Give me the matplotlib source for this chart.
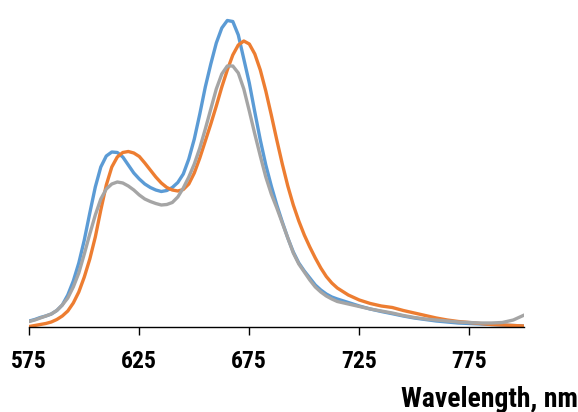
import numpy as np
import matplotlib
matplotlib.use("Agg")
from matplotlib import pyplot as plt
from matplotlib import font_manager

# wavelength grid (nm) and the three emission spectra
wavelength = [575, 577.5, 580, 582.5, 585, 587.5, 590, 592.5, 595, 597.5,
              600, 602.5, 605, 607.5, 610, 612.5, 615, 617.5, 620, 622.5,
              625, 627.5, 630, 632.5, 635, 637.5, 640, 642.5, 645, 647.5,
              650, 652.5, 655, 657.5, 660, 662.5, 665, 667.5, 670, 672.5,
              675, 677.5, 680, 682.5, 685, 687.5, 690, 692.5, 695, 697.5,
              700, 702.5, 705, 707.5, 710, 712.5, 715, 720, 725, 730,
              735, 740, 745, 750, 755, 760, 765, 770, 775, 780,
              785, 790, 795, 800]

blue = [6, 7.5, 9.5, 11, 13, 16.5, 22, 32, 46, 64,
        87, 114, 140, 160, 171, 175, 174.5, 170, 162, 154,
        148, 143, 139.5, 137, 135.5, 136.5, 139.5, 144.5, 153, 168,
        188, 213, 240, 263, 284, 299, 306.5, 305.5, 292, 268,
        244, 215, 187, 162, 141, 122, 105, 89, 75, 64,
        56, 49, 42, 37, 33, 30, 28, 24.5, 21, 18,
        15.5, 13.3, 11, 9, 7.5, 6, 5, 4, 3.5, 3,
        2.5, 2, 1.5, 1]

orange = [0.5, 1.5, 2.5, 3.5, 5, 7.5, 11, 16, 24, 35,
          50, 68, 90, 117, 142, 160, 170, 174.5, 175.5, 174,
          170.5, 164, 157, 150, 144, 139.5, 137, 136, 137.5, 143,
          154, 169, 186, 203, 221, 240, 257, 272, 282, 286,
          283, 273, 257, 236, 212, 187, 163, 141, 122, 106,
          92, 80, 69, 59, 50.5, 44, 39, 32, 27, 23.5,
          21, 19.5, 16.5, 14, 11.5, 9, 7, 5.5, 4.5, 3.5,
          2.5, 2, 1.5, 1]

gray = [5.5, 7, 9, 11, 13, 16.5, 22, 29, 40, 54,
        73, 93, 112, 128, 138, 143, 145, 144, 141, 137,
        132, 128, 125.5, 123.5, 122, 122.5, 124.5, 130, 139, 150,
        163, 179, 198, 218, 238, 253, 261, 261, 254, 238,
        216, 193, 171, 150, 133, 119, 104, 89, 74, 63,
        55, 47, 40, 35, 31, 28, 25.5, 23, 20.5, 18,
        16, 14, 11.5, 9.5, 8, 7, 6, 5, 4.5, 4,
        4, 4.5, 7, 12]

xticks = [575, 625, 675, 725, 775]

# the reference uses a narrow bold face; take one if it is installed
available = {f.name for f in font_manager.fontManager.ttflist}
narrow = next((n for n in ['Liberation Sans Narrow', 'Roboto Condensed',
                           'Open Sans Condensed', 'DejaVu Sans Condensed']
               if n in available), None)
base_font = narrow if narrow else 'Liberation Sans'
plt.rcParams['font.family'] = [base_font, 'DejaVu Sans']

fig = plt.figure(figsize=(5.78, 4.12), dpi=100)
ax = fig.add_axes([29.3 / 578, 85 / 412, 495 / 578, 320 / 412])

for values, colour in [(blue, '#5B9BD5'), (orange, '#ED7D31'), (gray, '#A5A5A5')]:
    ax.plot(wavelength, values, color=colour, linewidth=2.4,
            solid_capstyle='round', solid_joinstyle='round')

ax.set_xlim(575, 800)
ax.set_ylim(0, 320)
ax.set_xticks(xticks)
ax.set_xticklabels([str(t) for t in xticks], fontsize=17, fontweight='bold')
ax.set_yticks([])
for side in ['top', 'right', 'left']:
    ax.spines[side].set_visible(False)
ax.spines['bottom'].set_linewidth(1.0)
ax.tick_params(axis='x', direction='out', length=5.5, width=1.0, pad=11)

# axis title sits at the bottom right and runs to the right edge
label = fig.text(401 / 578, 4.7 / 412, 'Wavelength, nm', fontsize=20,
                 fontweight='bold', ha='left', va='baseline')
renderer = fig.canvas.get_renderer()
w = label.get_window_extent(renderer).width
if w > 178:
    label.set_fontsize(20 * 178 / w)

fig.savefig('out.png', dpi=100)
